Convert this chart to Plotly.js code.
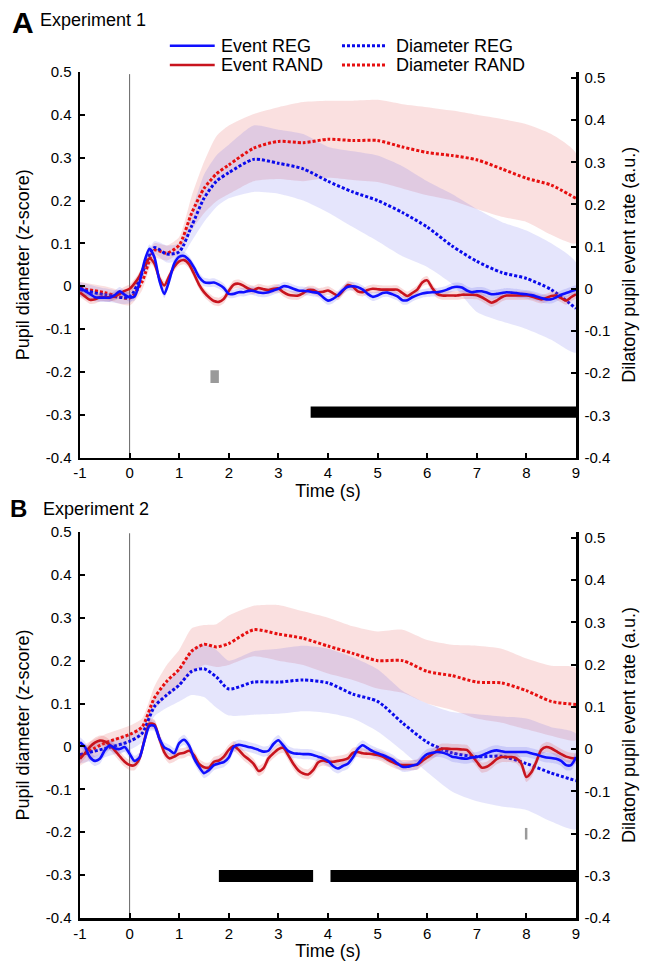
<!DOCTYPE html>
<html><head><meta charset="utf-8">
<script src="https://cdn.plot.ly/plotly-3.0.1.min.js"></script>
<style>html,body{margin:0;padding:0;background:#fff}#chart{width:655px;height:961px}</style>
</head><body><div id="chart"></div>
<script>
// ---------- time grids ----------
const tEvent = [-1.0,-0.9,-0.8,-0.7,-0.6,-0.5,-0.4,-0.3,-0.2,-0.1,0.0,0.1,0.2,0.3,0.4,0.5,0.6,0.7,0.8,0.9,
1.0,1.1,1.2,1.3,1.4,1.5,1.6,1.7,1.8,1.9,2.0,2.1,2.2,2.3,2.4,2.5,2.6,2.7,2.8,2.9,
3.0,3.1,3.2,3.3,3.4,3.5,3.6,3.7,3.8,3.9,4.0,4.1,4.2,4.3,4.4,4.5,4.6,4.7,4.8,4.9,
5.0,5.1,5.2,5.3,5.4,5.5,5.6,5.7,5.8,5.9,6.0,6.1,6.2,6.3,6.4,6.5,6.6,6.7,6.8,6.9,
7.0,7.1,7.2,7.3,7.4,7.5,7.6,7.7,7.8,7.9,8.0,8.1,8.2,8.3,8.4,8.5,8.6,8.7,8.8,8.9,9.0];
const tDiam = [-1,-0.5,0,0.25,0.5,0.75,1,1.25,1.5,1.75,2,2.5,3,3.5,4,4.5,5,5.5,6,6.5,7,7.5,8,8.5,9];

// ---------- Experiment 1 ----------
const evRegA = [0.002,-0.005,-0.012,-0.02,-0.021,-0.021,-0.021,-0.015,-0.006,-0.014,
-0.02,-0.018,0.015,0.065,0.095,0.075,0.02,-0.012,0.02,0.06,
0.076,0.078,0.068,0.05,0.028,0.016,0.014,0.015,0.01,0.002,
-0.012,-0.012,-0.008,-0.008,-0.005,-0.005,-0.009,-0.01,-0.008,-0.004,
0.0,0.006,0.005,0.0,-0.004,-0.005,-0.006,-0.008,-0.01,-0.02,
-0.028,-0.024,-0.015,-0.003,0.005,0.006,0.004,-0.002,-0.012,-0.019,
-0.016,-0.01,-0.009,-0.013,-0.018,-0.027,-0.027,-0.02,-0.015,-0.011,
-0.009,-0.008,-0.008,-0.006,-0.002,0.003,0.005,0.003,-0.004,-0.008,
-0.006,-0.006,-0.009,-0.013,-0.012,-0.01,-0.008,-0.009,-0.01,-0.012,
-0.013,-0.015,-0.018,-0.022,-0.025,-0.025,-0.02,-0.014,-0.01,-0.006,-0.002];
const evRandA = [-0.009,-0.018,-0.026,-0.025,-0.02,-0.02,-0.02,-0.018,-0.012,-0.005,
0.0,0.013,0.03,0.055,0.072,0.06,0.025,0.008,0.03,0.052,
0.065,0.068,0.058,0.035,0.01,-0.008,-0.02,-0.029,-0.031,-0.024,
-0.005,0.01,0.012,0.007,0.0,-0.003,0.002,-0.001,-0.003,0.0,
0.001,-0.008,-0.014,-0.016,-0.016,-0.01,-0.003,-0.003,-0.008,-0.007,
-0.004,-0.01,-0.017,-0.005,0.009,0.005,-0.006,-0.008,-0.003,0.0,
-0.001,-0.002,-0.002,-0.002,-0.002,-0.01,-0.017,-0.01,-0.002,0.015,
0.02,0.002,-0.012,-0.016,-0.016,-0.016,-0.016,-0.014,-0.014,-0.014,
-0.015,-0.02,-0.027,-0.033,-0.028,-0.02,-0.016,-0.016,-0.016,-0.016,
-0.016,-0.018,-0.022,-0.025,-0.022,-0.017,-0.016,-0.022,-0.028,-0.02,-0.013];
const semEvRegA = 0.01;
const semEvRandA = 0.01;

const diamRegA   = [-0.008,-0.02,-0.025,0.03,0.09,0.075,0.08,0.14,0.205,0.245,0.265,0.296,0.287,0.274,0.245,0.22,0.2,0.172,0.138,0.094,0.058,0.032,0.018,-0.008,-0.052];
const diamRegAUp = [0.01,-0.005,-0.01,0.045,0.105,0.095,0.1,0.175,0.26,0.305,0.33,0.375,0.365,0.355,0.325,0.315,0.305,0.28,0.245,0.215,0.18,0.15,0.13,0.1,0.055];
const diamRegALo = [-0.025,-0.035,-0.04,0.015,0.075,0.055,0.06,0.105,0.15,0.185,0.205,0.22,0.216,0.2,0.172,0.138,0.105,0.07,0.045,0.005,-0.06,-0.082,-0.1,-0.125,-0.155];
const diamRandA   = [-0.005,-0.015,-0.028,0.01,0.084,0.077,0.096,0.17,0.228,0.262,0.283,0.322,0.338,0.335,0.343,0.34,0.34,0.325,0.312,0.305,0.295,0.274,0.252,0.236,0.205];
const diamRandAUp = [0.01,0.0,-0.012,0.03,0.1,0.095,0.115,0.21,0.29,0.35,0.375,0.402,0.418,0.43,0.433,0.433,0.435,0.425,0.418,0.41,0.4,0.39,0.378,0.355,0.31];
const diamRandALo = [-0.02,-0.03,-0.045,-0.01,0.065,0.06,0.078,0.13,0.17,0.198,0.215,0.245,0.25,0.245,0.253,0.248,0.243,0.228,0.212,0.2,0.18,0.162,0.15,0.12,0.1];

// ---------- Experiment 2 ----------
const evRegB = [0.016,0.005,-0.019,-0.028,-0.023,-0.003,0.009,0.002,0.0,0.005,
-0.011,-0.028,-0.02,0.02,0.055,0.055,0.025,0.004,-0.002,-0.01,
0.014,0.022,0.008,-0.022,-0.042,-0.057,-0.05,-0.038,-0.034,-0.031,
-0.02,0.005,0.01,0.008,0.005,0.002,-0.002,-0.006,-0.004,0.012,
0.021,0.008,-0.005,-0.01,-0.011,-0.012,-0.012,-0.014,-0.018,-0.022,
-0.028,-0.04,-0.046,-0.04,-0.035,-0.02,0.0,0.009,0.002,-0.005,
-0.01,-0.014,-0.019,-0.025,-0.034,-0.042,-0.042,-0.039,-0.036,-0.022,
-0.012,-0.009,-0.007,-0.008,-0.012,-0.018,-0.02,-0.022,-0.023,-0.02,
-0.019,-0.015,-0.01,-0.005,-0.003,-0.005,-0.007,-0.007,-0.007,-0.007,
-0.007,-0.01,-0.013,-0.017,-0.02,-0.021,-0.023,-0.028,-0.038,-0.038,-0.019];
const evRandB = [-0.023,-0.01,0.005,0.015,0.02,0.018,0.01,-0.003,-0.017,-0.03,
-0.038,-0.038,-0.022,0.022,0.06,0.058,0.025,-0.008,-0.022,-0.018,
-0.011,-0.009,-0.004,-0.015,-0.035,-0.043,-0.044,-0.03,-0.027,-0.018,
-0.002,0.007,-0.002,-0.015,-0.024,-0.035,-0.052,-0.045,-0.022,-0.01,
0.0,0.003,-0.015,-0.035,-0.05,-0.058,-0.06,-0.05,-0.032,-0.027,
-0.03,-0.03,-0.028,-0.026,-0.022,-0.009,-0.007,-0.01,-0.011,-0.012,
-0.014,-0.018,-0.025,-0.031,-0.036,-0.038,-0.038,-0.038,-0.037,-0.028,
-0.02,-0.012,-0.004,0.001,0.001,0.0,0.0,-0.001,-0.002,-0.015,
-0.03,-0.044,-0.042,-0.034,-0.024,-0.019,-0.019,-0.019,-0.022,-0.035,
-0.066,-0.055,-0.03,-0.002,0.005,0.002,-0.005,-0.012,-0.018,-0.021,-0.023];
const semEvRegB = 0.012;
const semEvRandB = 0.012;

const diamRegB   = [-0.019,-0.005,0.012,0.03,0.093,0.12,0.143,0.175,0.181,0.162,0.134,0.15,0.15,0.155,0.148,0.122,0.105,0.055,0.01,-0.015,-0.024,-0.023,-0.04,-0.062,-0.08];
const diamRegBUp = [0.0,0.012,0.03,0.05,0.115,0.15,0.18,0.225,0.24,0.225,0.2,0.222,0.228,0.235,0.228,0.208,0.18,0.13,0.1,0.08,0.075,0.07,0.065,0.045,0.03];
const diamRegBLo = [-0.04,-0.025,-0.008,0.01,0.07,0.09,0.105,0.12,0.115,0.09,0.072,0.074,0.076,0.082,0.078,0.065,0.035,-0.01,-0.06,-0.105,-0.128,-0.14,-0.148,-0.175,-0.193];
const diamRandB   = [-0.023,0.008,0.028,0.045,0.113,0.152,0.18,0.222,0.238,0.232,0.24,0.272,0.262,0.252,0.234,0.217,0.2,0.2,0.175,0.165,0.15,0.148,0.13,0.105,0.098];
const diamRandBUp = [0.0,0.028,0.048,0.065,0.14,0.19,0.225,0.275,0.283,0.285,0.305,0.328,0.33,0.315,0.3,0.28,0.268,0.272,0.248,0.237,0.235,0.228,0.205,0.188,0.183];
const diamRandBLo = [-0.045,-0.012,0.008,0.025,0.085,0.115,0.14,0.17,0.19,0.185,0.19,0.21,0.2,0.19,0.17,0.155,0.135,0.125,0.1,0.085,0.065,0.055,0.04,0.025,0.015];

// ---------- significance markers (time in s, value range) ----------
const sigA_start = [3.65], sigA_end = [9], sigA_y = [-0.307, -0.281];
const grayA_start = [1.63], grayA_end = [1.80], grayA_y = [-0.226, -0.196];
const sigB_start = [1.80, 4.05], sigB_end = [3.70, 9], sigB_y = [-0.316, -0.288];
const grayB_start = [7.97], grayB_end = [8.02], grayB_y = [-0.217, -0.19];

// ---------- ticks / labels ----------
const xTickVals = [-1,0,1,2,3,4,5,6,7,8,9];
const xTickText = ['-1','0','1','2','3','4','5','6','7','8','9'];
const yTickVals = [-0.4,-0.3,-0.2,-0.1,0,0.1,0.2,0.3,0.4,0.5];
const yTickText = ['-0.4','-0.3','-0.2','-0.1','0','0.1','0.2','0.3','0.4','0.5'];
const seriesNames = ['Event REG','Event RAND','Diameter REG','Diameter RAND'];

// ---------- styles ----------
const FONT = 'Liberation Sans, Arial, Helvetica, sans-serif';
const C_EV_REG = 'rgb(15,15,255)', C_EV_RAND = 'rgb(200,20,30)';
const C_D_REG = 'rgb(10,10,235)', C_D_RAND = 'rgb(230,15,15)';
const F_RED = 'rgba(225,70,70,0.17)', F_BLUE = 'rgba(70,70,235,0.14)';
const F_RED_EV = 'rgba(225,70,70,0.2)', F_BLUE_EV = 'rgba(70,70,235,0.17)';
const DOT = '3px,2px';

function band(x, up, lo, color, xa, ya) {
  return {type:'scatter', mode:'lines', x: x.concat(x.slice().reverse()),
    y: up.concat(lo.slice().reverse()), fill:'toself', fillcolor:color,
    line:{width:0, shape:'spline', smoothing:0.6}, hoverinfo:'skip', showlegend:false, xaxis:xa, yaxis:ya};
}
function line(x, y, name, color, dash, xa, ya) {
  return {type:'scatter', mode:'lines', x:x, y:y, name:name,
    line:{color:color, width: dash ? 3 : 2.6, dash: dash || 'solid', shape:'spline', smoothing:0.7},
    showlegend:false, xaxis:xa, yaxis:ya};
}
function panel(xa, yl, yr, evReg, evRand, sReg, sRand, dReg, dRegUp, dRegLo, dRand, dRandUp, dRandLo) {
  return [
    band(tDiam, dRandUp, dRandLo, F_RED, xa, yl),
    band(tDiam, dRegUp, dRegLo, F_BLUE, xa, yl),
    band(tEvent, evRand.map(v => v + sRand), evRand.map(v => v - sRand), F_RED_EV, xa, yr),
    band(tEvent, evReg.map(v => v + sReg), evReg.map(v => v - sReg), F_BLUE_EV, xa, yr),
    line(tEvent, evRand, seriesNames[1], C_EV_RAND, null, xa, yr),
    line(tEvent, evReg, seriesNames[0], C_EV_REG, null, xa, yr),
    line(tDiam, dRand, seriesNames[3], C_D_RAND, DOT, xa, yl),
    line(tDiam, dReg, seriesNames[2], C_D_REG, DOT, xa, yl)
  ];
}

const data = [].concat(
  panel('x','y','y2', evRegA, evRandA, semEvRegA, semEvRandA, diamRegA, diamRegAUp, diamRegALo, diamRandA, diamRandAUp, diamRandALo),
  panel('x2','y3','y4', evRegB, evRandB, semEvRegB, semEvRandB, diamRegB, diamRegBUp, diamRegBLo, diamRandB, diamRandBUp, diamRandBLo)
);

// ---------- shapes ----------
const shapes = [];
function rects(starts, ends, yr, color, xref, yref) {
  starts.forEach((s, i) => shapes.push({type:'rect', xref:xref, yref:yref, x0:s, x1:ends[i], y0:yr[0], y1:yr[1],
    fillcolor:color, line:{width:0}, layer:'above'}));
}
rects(sigA_start, sigA_end, sigA_y, '#000', 'x', 'y');
rects(grayA_start, grayA_end, grayA_y, '#9a9a9a', 'x', 'y');
rects(sigB_start, sigB_end, sigB_y, '#000', 'x2', 'y3');
rects(grayB_start, grayB_end, grayB_y, '#9a9a9a', 'x2', 'y3');
shapes.push({type:'line', xref:'x', yref:'y', x0:0, x1:0, y0:-0.4, y1:0.495, line:{color:'#666', width:1}, layer:'below'});
shapes.push({type:'line', xref:'x2', yref:'y3', x0:0, x1:0, y0:-0.4, y1:0.497, line:{color:'#666', width:1}, layer:'below'});

// legend samples (paper coords)
const legRows = [1.0311, 1.0083];
const legCols = [[0.1811, 0.2716], [0.5282, 0.6187]];
const legColors = [[C_EV_REG, C_EV_RAND], [C_D_REG, C_D_RAND]];
const legTextX = [0.2797, 0.6338];
const annotations = [];
for (let c = 0; c < 2; c++) {
  for (let r = 0; r < 2; r++) {
    shapes.push({type:'line', xref:'paper', yref:'paper', x0:legCols[c][0], x1:legCols[c][1], y0:legRows[r], y1:legRows[r],
      line:{color:legColors[c][r], width: c ? 3 : 2.6, dash: c ? DOT : 'solid'}});
    annotations.push({xref:'paper', yref:'paper', x:legTextX[c], y:legRows[r], xanchor:'left', yanchor:'middle',
      text: seriesNames[c*2 + r], showarrow:false, font:{family:FONT, size:18, color:'#000'}});
  }
}
annotations.push({xref:'paper', yref:'paper', x:-0.1408, y:1.0585, xanchor:'left', yanchor:'middle', text:'<b>A</b>', showarrow:false, font:{family:FONT, size:30, color:'#000'}});
annotations.push({xref:'paper', yref:'paper', x:-0.0855, y:1.0615, xanchor:'left', yanchor:'middle', text:'Experiment 1', showarrow:false, font:{family:FONT, size:18, color:'#000'}});
annotations.push({xref:'paper', yref:'paper', x:-0.1449, y:0.484, xanchor:'left', yanchor:'middle', text:'<b>B</b>', showarrow:false, font:{family:FONT, size:24, color:'#000'}});
annotations.push({xref:'paper', yref:'paper', x:-0.0785, y:0.4835, xanchor:'left', yanchor:'middle', text:'Experiment 2', showarrow:false, font:{family:FONT, size:18, color:'#000'}});

// ---------- axes ----------
const common = {showline:true, linecolor:'#000', linewidth:2.5, ticks:'inside', ticklen:5, tickwidth:2, tickcolor:'#000',
  showgrid:false, zeroline:false, tickfont:{family:FONT, size:15, color:'#000'}, fixedrange:true};
function xAx(anchor) {
  return Object.assign({}, common, {anchor:anchor, domain:[0,1], range:[-1,9], tickmode:'array', tickvals:xTickVals, ticktext:xTickText,
    title:{text:'Time (s)', font:{family:FONT, size:18, color:'#000'}, standoff:5}});
}
function yLeft(anchor, domain) {
  return Object.assign({}, common, {anchor:anchor, domain:domain, range:[-0.4,0.5], tickmode:'array', tickvals:yTickVals, ticktext:yTickText,
    ticklabelstandoff:3, title:{text:'Pupil diameter (z-score)', font:{family:FONT, size:18, color:'#000'}, standoff:12}});
}
function yRight(anchor, over) {
  return Object.assign({}, common, {anchor:anchor, overlaying:over, side:'right', range:[-0.4,0.514], tickmode:'array', tickvals:yTickVals, ticktext:yTickText,
    ticklabelstandoff:3, title:{text:'Dilatory pupil event rate (a.u.)', font:{family:FONT, size:18, color:'#000'}, standoff:13}});
}

const layout = {
  width:655, height:961, margin:{l:80, r:79, t:72, b:43},
  paper_bgcolor:'#fff', plot_bgcolor:'rgba(0,0,0,0)', showlegend:false,
  font:{family:FONT, color:'#000'},
  xaxis: xAx('y'), yaxis: yLeft('x', [0.5443, 1]), yaxis2: yRight('x', 'y'),
  xaxis2: xAx('y3'), yaxis3: yLeft('x2', [0, 0.4563]), yaxis4: yRight('x2', 'y3'),
  shapes: shapes, annotations: annotations
};

Plotly.newPlot('chart', data, layout, {staticPlot:true, displayModeBar:false});
</script>
</body></html>
